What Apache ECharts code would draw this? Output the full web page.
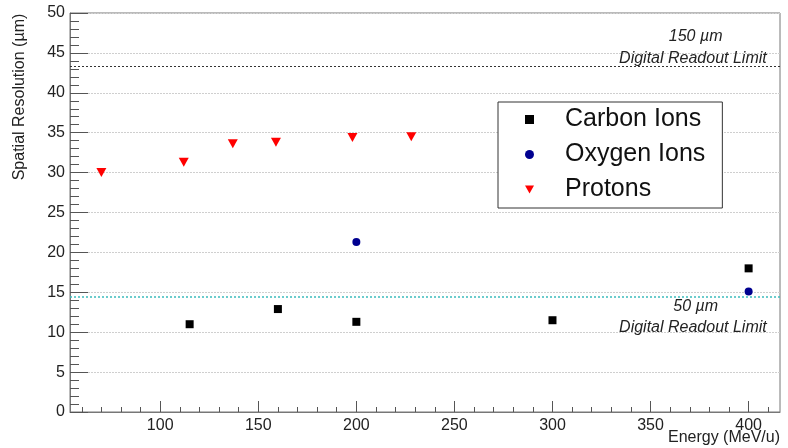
<!DOCTYPE html>
<html>
<head>
<meta charset="utf-8">
<script src="https://cdn.jsdelivr.net/npm/echarts@6/dist/echarts.min.js"></script>
<style>html,body{margin:0;padding:0;background:#fff}#c{width:788px;height:448px}</style>
</head>
<body>
<div id="c"></div>
<script>
// ---- data ----
const seriesNames = ['Carbon Ions', 'Oxygen Ions', 'Protons'];
const carbonEnergy = [115, 160, 200, 300, 400];
const carbonRes = [11.0, 12.9, 11.3, 11.5, 18.0];
const oxygenEnergy = [200, 400];
const oxygenRes = [21.3, 15.1];
const protonEnergy = [70, 112, 137, 159, 198, 228];
const protonRes = [30.0, 31.3, 33.6, 33.8, 34.4, 34.5];
const limitValues = [43.30, 14.43];
const limitPixelLabels = ['150 \u00b5m', '50 \u00b5m'];
const limitText = 'Digital Readout Limit';
const xMajorTicks = [100, 150, 200, 250, 300, 350, 400];
const xMinorTicks = [60,70,80,90,110,120,130,140,160,170,180,190,210,220,230,240,260,270,280,290,310,320,330,340,360,370,380,390,410];
const xTitle = 'Energy (MeV/u)';
const yTitle = 'Spatial Resolution (\u00b5m)';

const zip = (a, b) => a.map((v, i) => [v, b[i]]);
const FONT = 'Liberation Sans, Arial, Helvetica, sans-serif';
const downTriangle = 'path://M0,0 L10,0 L5,9 Z';

const chart = echarts.init(document.getElementById('c'), null, {renderer: 'canvas'});
const axisGray = '#777';

const option = {
  animation: false,
  backgroundColor: '#fff',
  grid: {left: 70, right: 8, top: 13, bottom: 36, show: true, borderColor: axisGray, borderWidth: 1, backgroundColor: 'transparent'},
  xAxis: [{
    type: 'value', min: 54, max: 416,
    axisLine: {show: true, lineStyle: {color: axisGray}},
    axisTick: {show: true, inside: true, length: 11, customValues: xMajorTicks, lineStyle: {color: '#555'}},
    axisLabel: {customValues: xMajorTicks, fontSize: 16, color: '#222', fontFamily: FONT, margin: 6},
    splitLine: {show: false}
  }, {
    type: 'value', min: 54, max: 416, position: 'bottom',
    axisLine: {show: false},
    axisTick: {show: true, inside: true, length: 5, customValues: xMinorTicks, lineStyle: {color: '#555'}},
    axisLabel: {show: false},
    splitLine: {show: false}
  }],
  yAxis: {
    type: 'value', min: 0, max: 50, interval: 5,
    axisLine: {show: true, lineStyle: {color: axisGray}},
    axisTick: {show: true, inside: true, length: 18, lineStyle: {color: '#555'}},
    minorTick: {show: true, splitNumber: 5, length: 9, lineStyle: {color: '#555'}},
    axisLabel: {fontSize: 16, color: '#222', fontFamily: FONT, margin: 5},
    splitLine: {show: true, lineStyle: {color: '#cfcfcf', type: [2, 1], width: 1}}
  },
  legend: {
    data: [
      {name: seriesNames[0]},
      {name: seriesNames[1]},
      {name: seriesNames[2], icon: downTriangle}
    ],
    orient: 'vertical', left: 498, top: 102,
    padding: [5, 17, 6, 27],
    itemGap: 10, itemWidth: 9, itemHeight: 9,
    borderColor: '#333', borderWidth: 1, backgroundColor: '#fff',
    textStyle: {fontSize: 25, color: '#111', fontFamily: FONT, lineHeight: 24, padding: [0, 0, 0, 26]}
  },
  graphic: [
    {type: 'text', x: 20, y: 97, rotation: Math.PI / 2,
     style: {text: yTitle, fontSize: 16, fontFamily: FONT, fill: '#222', align: 'center', verticalAlign: 'middle'}},
    {type: 'text', x: 780, y: 438,
     style: {text: xTitle, fontSize: 16, fontFamily: FONT, fill: '#222', align: 'right', verticalAlign: 'middle'}}
  ],
  series: [
    {name: seriesNames[0], type: 'scatter', data: zip(carbonEnergy, carbonRes), symbol: 'rect', symbolSize: 8,
     itemStyle: {color: '#000', opacity: 1}, z: 5},
    {name: seriesNames[1], type: 'scatter', data: zip(oxygenEnergy, oxygenRes), symbol: 'circle', symbolSize: 8,
     itemStyle: {color: '#000090', opacity: 1}, z: 5},
    {name: seriesNames[2], type: 'scatter', data: zip(protonEnergy, protonRes), symbol: 'triangle', symbolRotate: 180, symbolSize: [10, 9],
     itemStyle: {color: '#ff0000', opacity: 1}, z: 5},
    {name: 'limits', type: 'scatter', data: [], silent: true, z: 3,
     markLine: {
       silent: true, symbol: ['none', 'none'], label: {show: false},
       data: [
         {yAxis: limitValues[0], lineStyle: {color: '#333', type: [2, 2], width: 1}},
         {yAxis: limitValues[1], lineStyle: {color: '#3cbcbc', type: [2, 2], width: 1.5}}
       ]
     },
     markPoint: {
       silent: true, symbol: 'circle', symbolSize: 0,
       label: {show: true, position: 'inside', fontSize: 16, fontStyle: 'italic', fontFamily: FONT, color: '#222'},
       data: [
         {coord: [373, 47.0], value: limitPixelLabels[0], label: {formatter: limitPixelLabels[0]}},
         {coord: [371.6, 44.25], value: limitText, label: {formatter: limitText}},
         {coord: [373, 13.2], value: limitPixelLabels[1], label: {formatter: limitPixelLabels[1]}},
         {coord: [371.6, 10.55], value: limitText, label: {formatter: limitText}}
       ]
     }}
  ]
};
chart.setOption(option);
</script>
</body>
</html>
